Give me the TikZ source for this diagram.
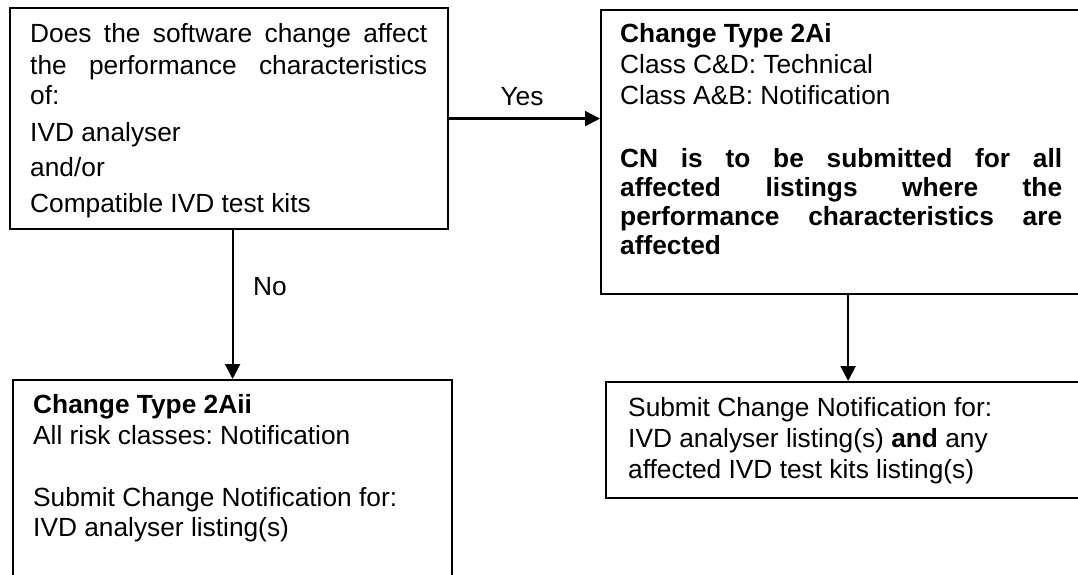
\documentclass[tikz,border=0pt]{standalone}
\usepackage{fontspec}
\setmainfont{Liberation Sans}
\usetikzlibrary{arrows.meta}

\tikzset{
  box/.style={draw, line width=2.2pt, anchor=north west, inner sep=0pt, fill=none},
  txt/.style={anchor=base west, inner sep=0pt, font=\fontsize{26.3}{31}\selectfont\frenchspacing},
  lbl/.style={anchor=base, inner sep=0pt, font=\fontsize{26.3}{31}\selectfont},
  arr/.style={line width=2.2pt, -{Triangle[length=15pt,width=15pt]}},
}
\newcommand{\jline}[2]{\makebox[#1pt][s]{#2}}

\begin{document}
\begin{tikzpicture}[x=1pt,y=-1pt]
  \useasboundingbox (0,0) rectangle (1078,575);
  \clip (0,0) rectangle (1078,575);

  % boxes
  \node[box, minimum width=438pt, minimum height=221pt] (q)  at (9,7) {};
  \node[box, minimum width=494pt, minimum height=284pt] (ta) at (600,9) {};
  \node[box, minimum width=439pt, minimum height=240pt] (tb) at (12,379) {};
  \node[box, minimum width=484pt, minimum height=116pt] (sn) at (605,381) {};

  % question
  \node[txt] (q1) at (30,43)  {\jline{397}{Does the software change affect}};
  \node[txt] (q2) at (30,75)  {\jline{397}{the performance characteristics}};
  \node[txt] (q3) at (30,105) {of:};
  \node[txt] (q4) at (30,141) {IVD analyser};
  \node[txt] (q5) at (30,176) {and/or};
  \node[txt] (q6) at (30,212) {Compatible IVD test kits};

  % change type 2Ai
  \node[txt] (a1) at (620,43)  {\textbf{Change Type 2Ai}};
  \node[txt] (a2) at (620,74)  {Class C\&D: Technical};
  \node[txt] (a3) at (620,105) {Class A\&B: Notification};
  \node[txt] (a4) at (620,167) {\bfseries\jline{442}{CN is to be submitted for all}};
  \node[txt] (a5) at (620,196) {\bfseries\jline{442}{affected listings where the}};
  \node[txt] (a6) at (620,225) {\bfseries\jline{442}{performance characteristics are}};
  \node[txt] (a7) at (620,254) {\textbf{affected}};

  % change type 2Aii
  \node[txt] (b1) at (33,413) {\textbf{Change Type 2Aii}};
  \node[txt] (b2) at (33,444) {All risk classes: Notification};
  \node[txt] (b3) at (33,506) {Submit Change Notification for:};
  \node[txt] (b4) at (33,536) {IVD analyser listing(s)};

  % notification for analyser and kits
  \node[txt] (s1) at (628,416) {Submit Change Notification for:};
  \node[txt] (s2) at (628,447) {IVD analyser listing(s) \textbf{and} any};
  \node[txt] (s3) at (628,478) {affected IVD test kits listing(s)};

  % connectors
  \draw[arr] (q.east) -- (q.east -| ta.west);
  \draw[arr] (q.south -| tb.north) -- (tb.north);
  \draw[arr] (ta.south) -- (ta.south |- sn.north);

  \node[lbl] (yes) at (522,106) {Yes};
  \node[lbl] (no)  at (270,295) {No};
\end{tikzpicture}
\end{document}
